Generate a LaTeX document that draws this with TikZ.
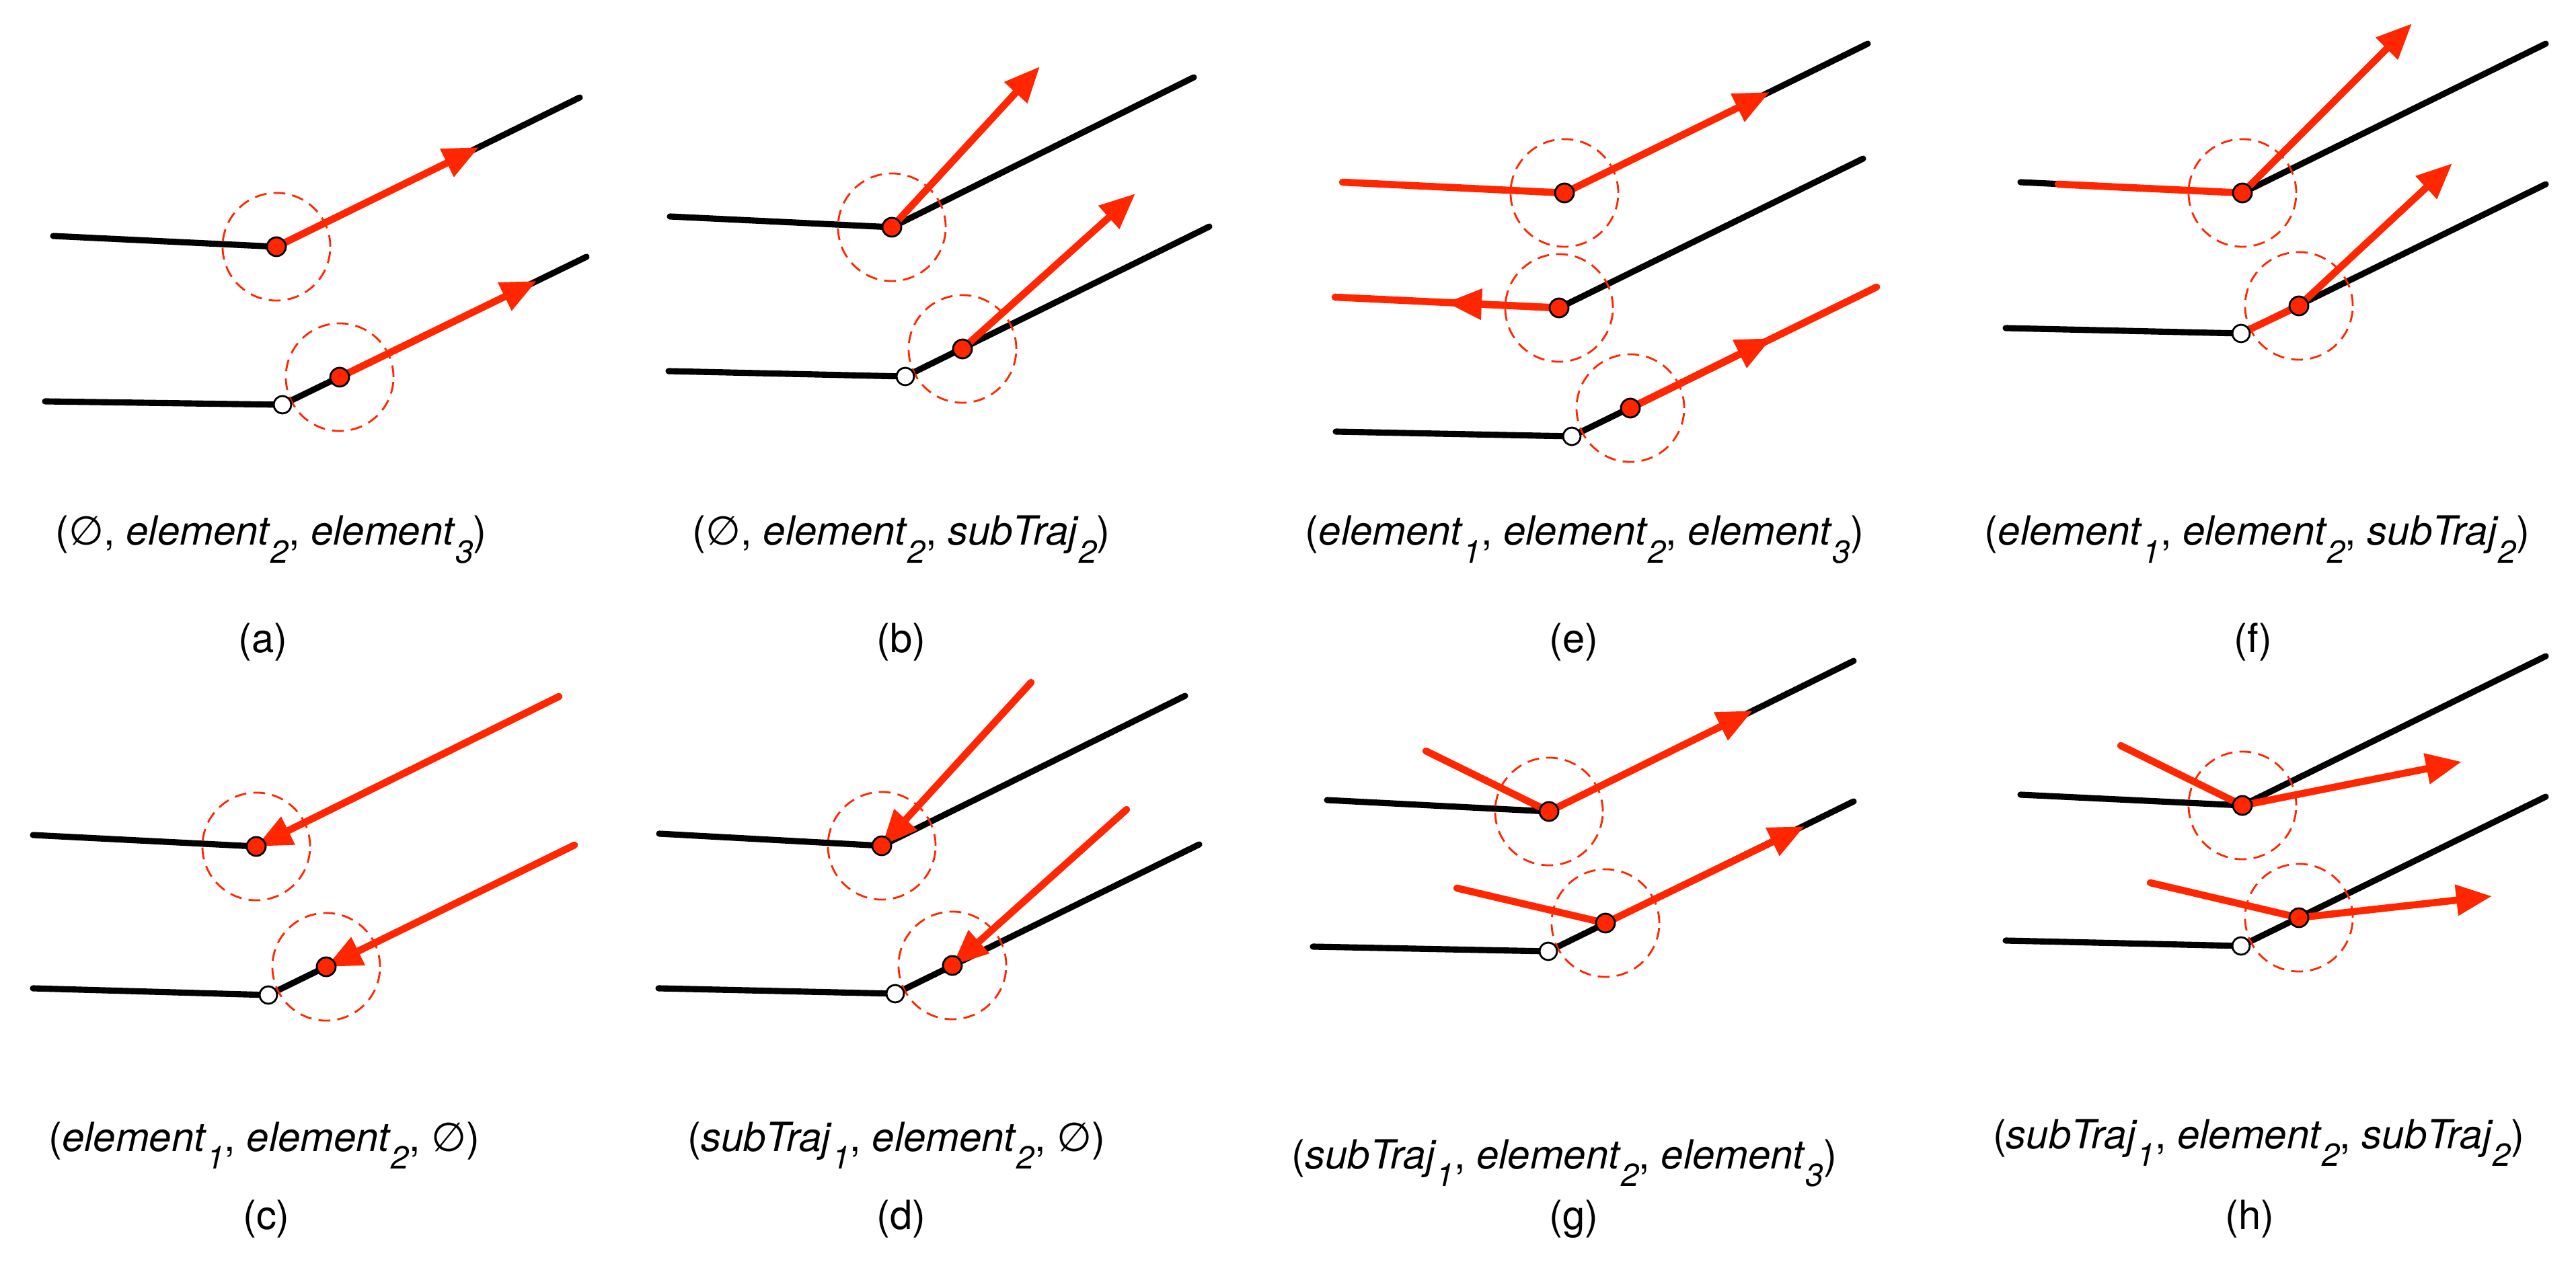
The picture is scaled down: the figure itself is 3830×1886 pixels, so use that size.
\documentclass[tikz,border=0pt]{standalone}
\usepackage{fontspec}
\setmainfont{TeX Gyre Heros}
\newfontfamily\djvfont{DejaVu Sans}
\usetikzlibrary{arrows.meta}
\definecolor{myred}{RGB}{255,38,0}
\newcommand\emptysym{{\djvfont ∅}}
\newcommand\tw[1]{\textit{#1}}
\newcommand\sbs[1]{\raisebox{-7.5pt}{\fontsize{13.5pt}{15pt}\selectfont\itshape #1}}
\tikzset{
  traj/.style={line width=2.6pt, line cap=round, line join=round, black},
  redtraj/.style={line width=3pt, line cap=round, line join=round, myred},
  redarr/.style={line width=3pt, line cap=round, myred, -{Triangle[length=0.53cm,width=0.44cm]}},
  zone/.style={draw=myred, dash pattern=on 5pt off 3pt, line width=0.8pt},
  rdot/.style={circle, fill=myred, draw=black, line width=0.8pt, minimum size=0.28cm, inner sep=0pt},
  wdot/.style={circle, fill=white, draw=black, line width=0.8pt, minimum size=0.26cm, inner sep=0pt},
  formula/.style={anchor=base, inner sep=0pt, font=\fontsize{17pt}{20pt}\selectfont},
  sublabel/.style={anchor=base, inner sep=0pt, font=\fontsize{17pt}{20pt}\selectfont}
}
\begin{document}
\begin{tikzpicture}[x=0.01cm,y=-0.01cm]
\useasboundingbox (0,0) rectangle (3830,1886);
\fill[white] (0,0) rectangle (3830,1886);

% ---------------- coordinates ----------------
% (a)
\coordinate (atL) at (79,351);   \coordinate (atV) at (411,367);
\coordinate (atU) at (862,145);  \coordinate (atT) at (712,219);
\coordinate (abL) at (67,597);   \coordinate (abW) at (420,602);
\coordinate (abR) at (505,561);  \coordinate (abU) at (872,382);
\coordinate (abT) at (798,418);
% (b)
\coordinate (btL) at (996,322);  \coordinate (btV) at (1326,338);
\coordinate (btU) at (1775,115); \coordinate (btT) at (1546,99);
\coordinate (bbL) at (994,552);  \coordinate (bbW) at (1346,560);
\coordinate (bbR) at (1431,519); \coordinate (bbU) at (1798,337);
\coordinate (bbT) at (1688,288);
% (e)
\coordinate (etL) at (1996,271); \coordinate (etV) at (2326,287);
\coordinate (etU) at (2777,65);  \coordinate (etT) at (2631,137);
\coordinate (emL) at (1985,442); \coordinate (emV) at (2318,458);
\coordinate (emU) at (2770,236); \coordinate (emT) at (2150,450);
\coordinate (ebL) at (1986,642); \coordinate (ebW) at (2337,649);
\coordinate (ebR) at (2424,607); \coordinate (ebU) at (2790,427);
\coordinate (ebT) at (2634,503);
% (f)
\coordinate (ftL) at (3004,271); \coordinate (ftS) at (3060,274);
\coordinate (ftV) at (3334,287); \coordinate (ftU) at (3785,65);
\coordinate (ftT) at (3586,35);
\coordinate (fbL) at (2982,488); \coordinate (fbW) at (3332,496);
\coordinate (fbR) at (3418,455); \coordinate (fbU) at (3785,274);
\coordinate (fbT) at (3646,243);
% (c)
\coordinate (ctL) at (49,1242);  \coordinate (ctV) at (381,1259);
\coordinate (ctS) at (831,1036);
\coordinate (cbL) at (49,1470);  \coordinate (cbW) at (399,1480);
\coordinate (cbR) at (485,1438); \coordinate (cbS) at (854,1257);
% (d)
\coordinate (dtL) at (980,1240);  \coordinate (dtV) at (1311,1258);
\coordinate (dtU) at (1762,1035); \coordinate (dtS) at (1533,1015);
\coordinate (dbL) at (979,1470);  \coordinate (dbW) at (1331,1478);
\coordinate (dbR) at (1416,1436); \coordinate (dbU) at (1783,1256);
\coordinate (dbS) at (1675,1204);
% (g)
\coordinate (gtL) at (1973,1190); \coordinate (gtV) at (2303,1207);
\coordinate (gtU) at (2756,983);  \coordinate (gtS) at (2120,1117);
\coordinate (gtT) at (2606,1057);
\coordinate (gbL) at (1952,1408); \coordinate (gbW) at (2302,1415);
\coordinate (gbR) at (2387,1373); \coordinate (gbU) at (2756,1192);
\coordinate (gbS) at (2166,1321); \coordinate (gbT) at (2683,1229);
% (h)
\coordinate (htL) at (3004,1182); \coordinate (htV) at (3334,1198);
\coordinate (htU) at (3785,976);  \coordinate (htS) at (3153,1109);
\coordinate (htT) at (3660,1133);
\coordinate (hbL) at (2982,1399); \coordinate (hbW) at (3332,1407);
\coordinate (hbR) at (3418,1365); \coordinate (hbU) at (3785,1185);
\coordinate (hbS) at (3197,1313); \coordinate (hbT) at (3705,1333);

% ---------------- black trajectories ----------------
\foreach \p in {at,bt,et,em,ft,dt,gt,ht}{
  \draw[traj] (\p L) -- (\p V) -- (\p U);
}
\draw[traj] (ctL) -- (ctV) -- (ctS);
\draw[traj] (abL) -- (abW) -- (abU);
\draw[traj] (bbL) -- (bbW) -- (bbU);
\draw[traj] (ebL) -- (ebW) -- (ebU);
\draw[traj] (fbL) -- (fbW) -- (fbU);
\draw[traj] (cbL) -- (cbW) -- (cbS);
\draw[traj] (dbL) -- (dbW) -- (dbU);
\draw[traj] (gbL) -- (gbW) -- (gbU);
\draw[traj] (hbL) -- (hbW) -- (hbU);

% ---------------- red parts ----------------
% (a)
\draw[redarr] (atV) -- (atT);
\draw[redarr] (abR) -- (abT);
% (b)
\draw[redarr] (btV) -- (btT);
\draw[redarr] (bbR) -- (bbT);
% (e)
\draw[redtraj] (etL) -- (etV);
\draw[redarr] (etV) -- (etT);
\draw[redtraj] (emV) -- (emL);
\draw[redarr] (emV) -- (emT);
\draw[redtraj] (ebR) -- (ebU);
\draw[redarr] (ebR) -- (ebT);
% (f)
\draw[redtraj] (ftS) -- (ftV);
\draw[redarr] (ftV) -- (ftT);
\draw[redtraj] (fbW) -- (fbR);
\draw[redarr] (fbR) -- (fbT);
% (c)
\draw[redarr] (ctS) -- (ctV);
\draw[redarr] (cbS) -- (cbR);
% (d)
\draw[redarr] (dtS) -- (dtV);
\draw[redarr] (dbS) -- (dbR);
% (g)
\draw[redtraj] (gtS) -- (gtV);
\draw[redarr] (gtV) -- (gtT);
\draw[redtraj] (gbS) -- (gbR);
\draw[redarr] (gbR) -- (gbT);
% (h)
\draw[redtraj] (htS) -- (htV);
\draw[redarr] (htV) -- (htT);
\draw[redtraj] (hbS) -- (hbR);
\draw[redarr] (hbR) -- (hbT);

% ---------------- dashed neighbourhoods ----------------
\foreach \c in {atV,abR,btV,bbR,etV,emV,ebR,ftV,fbR,ctV,cbR,dtV,dbR,gtV,gbR,htV,hbR}{
  \draw[zone] (\c) circle[radius=0.8cm];
}

% ---------------- points ----------------
\foreach \c in {abW,bbW,ebW,fbW,cbW,dbW,gbW,hbW}{
  \node[wdot] (\c-dot) at (\c) {};
}
\foreach \c in {atV,abR,btV,bbR,etV,emV,ebR,ftV,fbR,ctV,cbR,dtV,dbR,gtV,gbR,htV,hbR}{
  \node[rdot] (\c-dot) at (\c) {};
}

% ---------------- labels ----------------
\node[formula] (fa) at (403,811) {(\emptysym, \tw{element}\sbs{2}, \tw{element}\sbs{3})};
\node[sublabel] (la) at (391,971) {(a)};
\node[formula] (fb) at (1340,811) {(\emptysym, \tw{element}\sbs{2}, \tw{subTraj}\sbs{2})};
\node[sublabel] (lb) at (1340,971) {(b)};
\node[formula] (fe) at (2356,811) {(\tw{element}\sbs{1}, \tw{element}\sbs{2}, \tw{element}\sbs{3})};
\node[sublabel] (le) at (2340,971) {(e)};
\node[formula] (ff) at (3356,811) {(\tw{element}\sbs{1}, \tw{element}\sbs{2}, \tw{subTraj}\sbs{2})};
\node[sublabel] (lf) at (3350,971) {(f)};

\node[formula] (fc) at (393,1712) {(\tw{element}\sbs{1}, \tw{element}\sbs{2}, \emptysym)};
\node[sublabel] (lc) at (396,1828) {(c)};
\node[formula] (fd) at (1333,1712) {(\tw{subTraj}\sbs{1}, \tw{element}\sbs{2}, \emptysym)};
\node[sublabel] (ld) at (1340,1828) {(d)};
\node[formula] (fg) at (2326,1738) {(\tw{subTraj}\sbs{1}, \tw{element}\sbs{2}, \tw{element}\sbs{3})};
\node[sublabel] (lg) at (2340,1828) {(g)};
\node[formula] (fh) at (3358,1708) {(\tw{subTraj}\sbs{1}, \tw{element}\sbs{2}, \tw{subTraj}\sbs{2})};
\node[sublabel] (lh) at (3345,1828) {(h)};
\end{tikzpicture}
\end{document}
